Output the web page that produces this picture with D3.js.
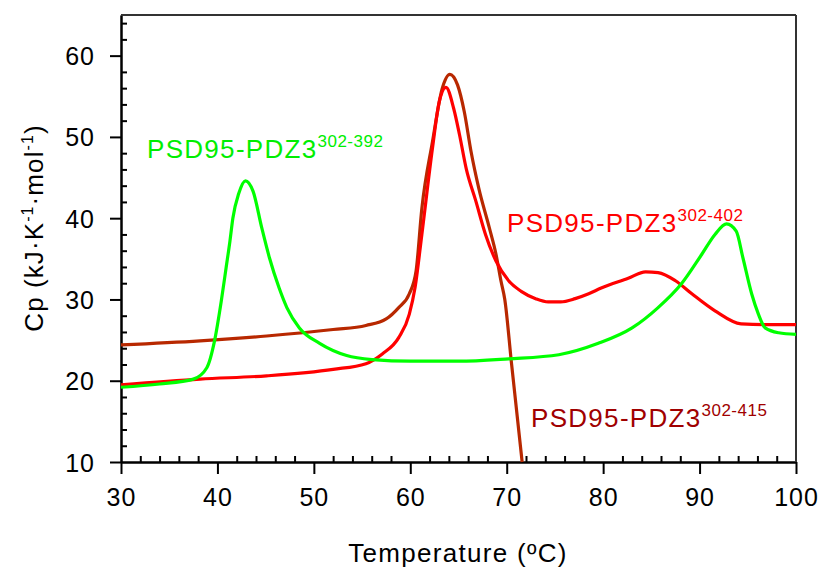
<!DOCTYPE html>
<html>
<head>
<meta charset="utf-8">
<script src="https://cdn.jsdelivr.net/npm/d3@7"></script>
<style>
  body { margin: 0; background: #fff; }
  svg text { font-family: Arial, "Liberation Sans", sans-serif; }
</style>
</head>
<body>
<svg id="chart" width="822" height="571"></svg>
<script>
// values
let tempGreen = [30, 34, 37.5, 38.9, 39.7, 40.4, 40.9, 41.3, 41.6, 42.2, 42.9, 43.7, 44.6, 45.4, 46.4, 47.2, 48.5, 50.6, 53.4, 56.1, 60, 65, 70.2, 75.4, 79.5, 83, 85.7, 88.1, 90.2, 91.6, 92.8, 93.8, 94.5, 95.4, 96.1, 96.8, 98.2, 100];
let cpGreen = [19.2, 19.6, 20.2, 21.6, 24.9, 29.8, 33.9, 37.2, 40, 43, 44.6, 43.3, 38.8, 35.1, 31.4, 29, 26.5, 24.6, 23.1, 22.6, 22.4, 22.4, 22.7, 23.2, 24.6, 26.5, 29, 31.9, 35.5, 38, 39.3, 38.4, 35.1, 30.7, 28.2, 26.5, 25.9, 25.7];

let tempRed = [30, 38.2, 45.1, 52, 55.4, 57.1, 58.8, 59.9, 60.5, 61.2, 62.3, 63, 63.7, 64.5, 65.1, 65.8, 66.8, 67.8, 68.9, 70.2, 71.5, 73, 74.3, 75.6, 77.1, 78.5, 79.8, 82.6, 84.4, 85.7, 87.5, 89.2, 91.6, 94.3, 96.8, 100];
let cpRed = [19.5, 20.2, 20.6, 21.4, 22.1, 23.3, 25.3, 28.2, 31.5, 38, 48.6, 54.3, 56.1, 53.5, 50.3, 46.1, 42.1, 38, 34.7, 32.3, 31, 30.1, 29.7, 29.7, 30.1, 30.7, 31.4, 32.6, 33.4, 33.3, 32.3, 30.7, 28.6, 27, 26.9, 26.9];

let tempDark = [30, 38.2, 45.1, 52, 55.4, 57.5, 58.8, 59.9, 60.6, 61.2, 62.3, 63.3, 64.1, 64.9, 65.6, 66.3, 67.1, 68.2, 68.9, 69.4, 69.8, 70.5, 71.6];
let cpDark = [24.4, 24.9, 25.5, 26.3, 26.8, 27.6, 29, 30.7, 33.5, 41.2, 49.4, 55.9, 57.7, 56.4, 53.1, 48.2, 43.7, 38.8, 35.5, 32.3, 30, 22.1, 10];

let xTicks = [30, 40, 50, 60, 70, 80, 90, 100];
let yTicks = [10, 20, 30, 40, 50, 60];

let svg = d3.select('#chart');
let margin = {top: 15, right: 26, bottom: 109, left: 121};
let width = 822 - margin.left - margin.right;
let height = 571 - margin.top - margin.bottom;

let g = svg.append('g').attr('transform', 'translate(' + margin.left + ',' + margin.top + ')');

let x = d3.scaleLinear().domain([30, 100]).range([0, width]);
let y = d3.scaleLinear().domain([10, 65]).range([height, 0]);

// minor ticks every 2 units, pointing inward
let xMinor = d3.range(32, 100, 2).filter(d => d % 10 != 0);
let yMinor = d3.range(12, 66, 2).filter(d => d % 10 != 0);

g.append('g')
  .attr('transform', 'translate(0,' + height + ')')
  .call(d3.axisBottom(x).tickValues(xMinor).tickSize(-6).tickFormat('').tickSizeOuter(0));
g.append('g')
  .call(d3.axisLeft(y).tickValues(yMinor).tickSize(-6).tickFormat('').tickSizeOuter(0));

let xAxis = g.append('g')
  .attr('transform', 'translate(0,' + height + ')')
  .call(d3.axisBottom(x).tickValues(xTicks).tickSize(12).tickPadding(14).tickSizeOuter(0));
let yAxis = g.append('g')
  .call(d3.axisLeft(y).tickValues(yTicks).tickSize(11).tickPadding(15).tickSizeOuter(0));

g.selectAll('.domain').attr('stroke', '#000').attr('stroke-width', 2);
g.selectAll('.tick line').attr('stroke', '#000').attr('stroke-width', 2);
xAxis.selectAll('text').attr('font-size', 25).attr('fill', '#000').attr('letter-spacing', 1);
yAxis.selectAll('text').attr('font-size', 25).attr('fill', '#000').attr('dy', '0.36em').attr('letter-spacing', 1);

// frame top and right
g.append('line').attr('x1', 0).attr('x2', width).attr('y1', 0).attr('y2', 0)
  .attr('stroke', '#333').attr('stroke-width', 2);
g.append('line').attr('x1', width).attr('x2', width).attr('y1', 0).attr('y2', height)
  .attr('stroke', '#333').attr('stroke-width', 2);

function drawSeries(temps, cps, color) {
  let pts = temps.map((t, i) => [t, cps[i]]);
  let line = d3.line()
    .x(d => x(d[0]))
    .y(d => y(d[1]))
    .curve(d3.curveMonotoneX);
  g.append('path')
    .datum(pts)
    .attr('d', line)
    .attr('fill', 'none')
    .attr('stroke', color)
    .attr('stroke-width', 3.2)
    .attr('stroke-linejoin', 'round');
}

drawSeries(tempDark, cpDark, '#b82800');
drawSeries(tempRed, cpRed, '#ff0000');
drawSeries(tempGreen, cpGreen, '#00ff00');

// series labels
function label(px, py, sup, color) {
  let t = svg.append('text')
    .attr('x', px).attr('y', py)
    .attr('fill', color)
    .attr('font-size', 26)
    .attr('letter-spacing', 1.3);
  t.append('tspan').text('PSD95-PDZ3');
  t.append('tspan').attr('font-size', 17).attr('dy', -11).attr('letter-spacing', 0.5).text(sup);
}
label(147, 158, '302-392', '#00ee00');
label(507, 232, '302-402', '#ff0000');
label(531, 427, '302-415', '#a00000');

// axis titles
svg.append('text')
  .attr('x', 458).attr('y', 562)
  .attr('text-anchor', 'middle')
  .attr('font-size', 26)
  .attr('letter-spacing', 1.3)
  .text('Temperature (\u00baC)');

let yt = svg.append('text')
  .attr('transform', 'translate(43,228) rotate(-90)')
  .attr('text-anchor', 'middle')
  .attr('font-size', 26)
  .attr('letter-spacing', 1.1);
yt.append('tspan').text('Cp (kJ\u00b7K');
yt.append('tspan').attr('font-size', 16).attr('dy', -10).text('-1');
yt.append('tspan').attr('dy', 10).text('\u00b7mol');
yt.append('tspan').attr('font-size', 16).attr('dy', -10).text('-1');
yt.append('tspan').attr('dy', 10).text(')');
</script>
</body>
</html>
